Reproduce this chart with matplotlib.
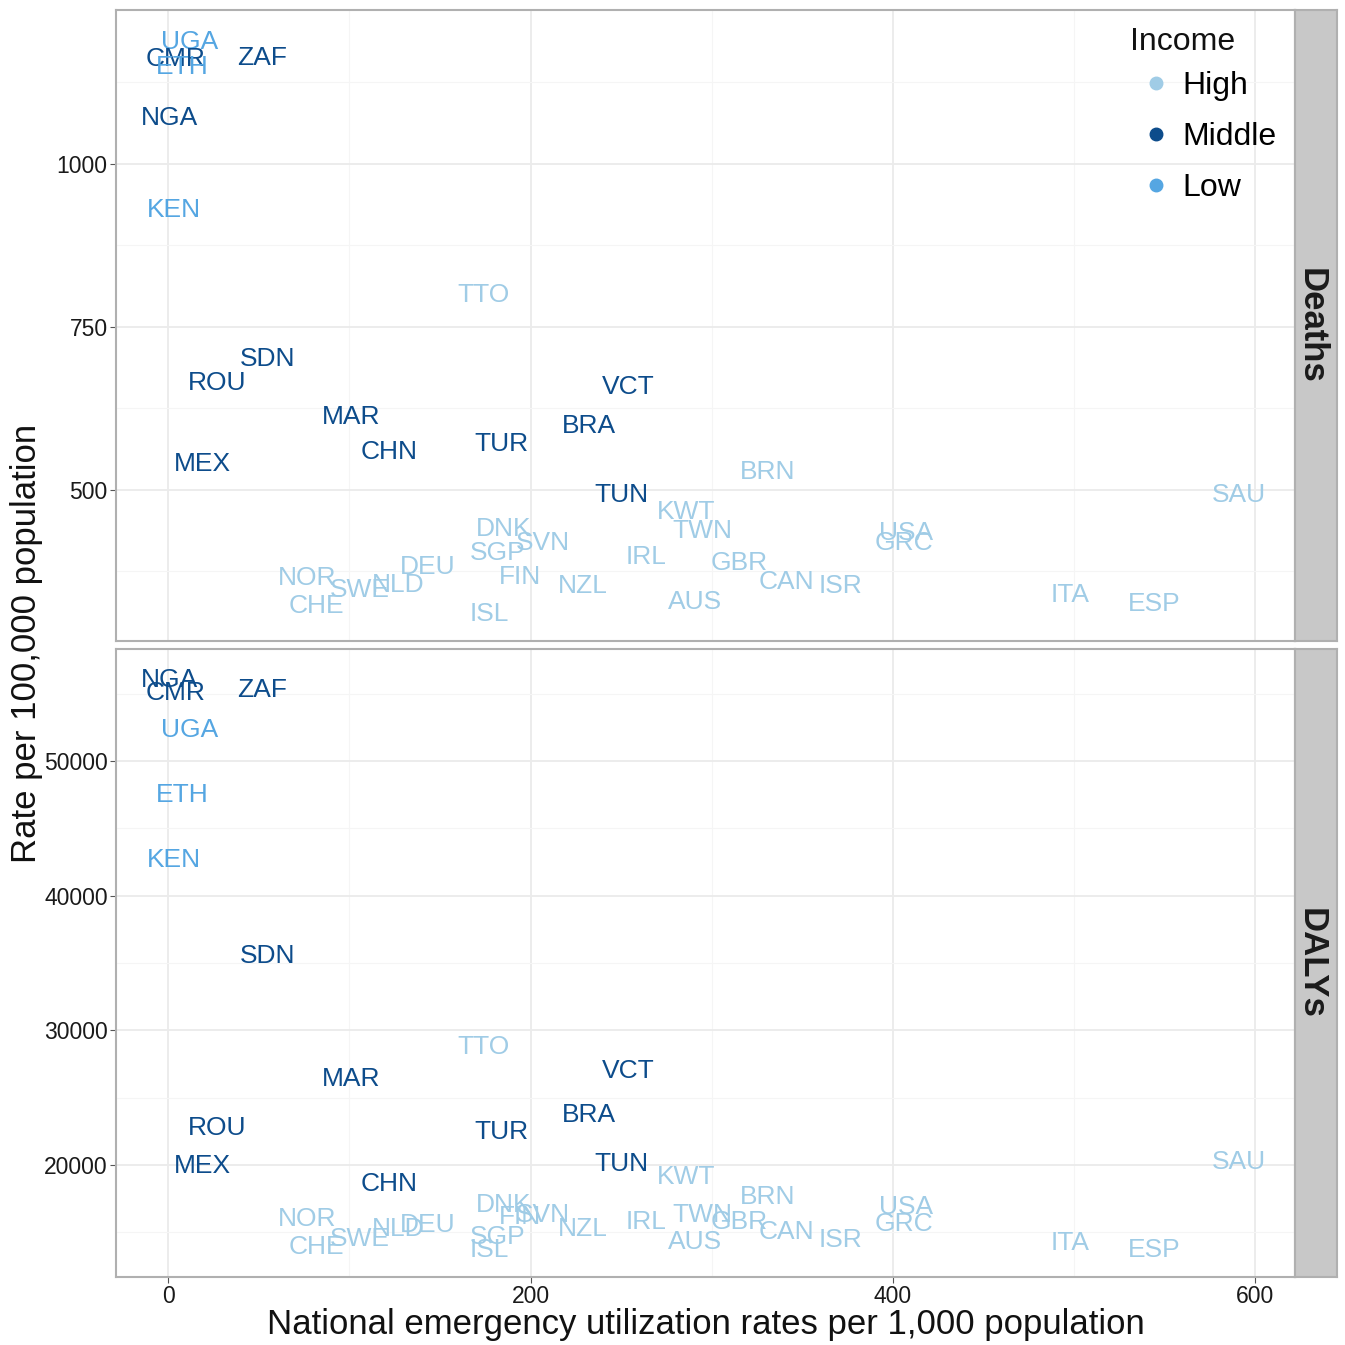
import matplotlib
matplotlib.use("Agg")
import matplotlib.pyplot as plt
import matplotlib.transforms as mtransforms
from matplotlib.lines import Line2D
from matplotlib.ticker import MultipleLocator

plt.rcParams['font.family'] = ['Liberation Sans', 'DejaVu Sans']

# data
countries = ["UGA", "CMR", "ETH", "ZAF", "NGA", "KEN", "TTO", "SDN", "ROU", "MAR",
             "CHN", "MEX", "TUR", "BRA", "VCT", "TUN", "BRN", "KWT", "TWN", "USA",
             "GRC", "SAU", "DNK", "SVN", "SGP", "IRL", "DEU", "FIN", "NOR", "GBR",
             "NZL", "SWE", "NLD", "CAN", "ISR", "AUS", "CHE", "ISL", "ITA", "ESP"]
income = ["Low", "Middle", "Low", "Middle", "Middle", "Low", "High", "Middle", "Middle", "Middle",
          "Middle", "Middle", "Middle", "Middle", "Middle", "Middle", "High", "High", "High", "High",
          "High", "High", "High", "High", "High", "High", "High", "High", "High", "High",
          "High", "High", "High", "High", "High", "High", "High", "High", "High", "High"]
utilization = [12, 4, 8, 52, 1, 3, 174, 55, 27, 101,
               122, 19, 184, 232, 254, 250, 331, 286, 295, 407,
               406, 591, 185, 207, 182, 264, 143, 194, 77, 315,
               229, 106, 127, 341, 371, 291, 82, 177, 498, 544]
deaths = [1190, 1164, 1152, 1166, 1074, 932, 802, 704, 667, 615,
          561, 543, 574, 601, 661, 495, 531, 469, 440, 437,
          422, 495, 443, 422, 406, 400, 385, 370, 368, 390,
          356, 350, 357, 362, 356, 331, 325, 313, 342, 328]
dalys = [52450, 55200, 47620, 55420, 56160, 42800, 28920, 35670, 22900, 26540,
         18750, 20080, 22600, 23870, 27130, 20230, 17780, 19265, 16440, 17040,
         15775, 20380, 17190, 16440, 14810, 15920, 15700, 16300, 16150, 15920,
         15400, 14660, 15400, 15180, 14590, 14440, 14070, 13850, 14365, 13850]

income_levels = ["High", "Middle", "Low"]
income_colors = {"High": "#a0cce6", "Middle": "#0d4c8b", "Low": "#55a6e2"}

fig = plt.figure(figsize=(13.45, 13.45), dpi=100)
W = 1345.0

def px_axes(x0, y0, x1, y1):
    return fig.add_axes([x0 / W, 1 - y1 / W, (x1 - x0) / W, (y1 - y0) / W])

ax_top = px_axes(116, 10, 1295, 641)
ax_bot = px_axes(116, 649, 1295, 1277)
strip_top = px_axes(1295, 10, 1337, 641)
strip_bot = px_axes(1295, 649, 1337, 1277)

panels = [(ax_top, deaths, (268, 1236), 250, 125),
          (ax_bot, dalys, (11690, 58315), 10000, 5000)]

for ax, vals, ylim, major, minor in panels:
    ax.set_xlim(-28.7, 621.8)
    ax.set_ylim(*ylim)
    ax.xaxis.set_major_locator(MultipleLocator(200))
    ax.xaxis.set_minor_locator(MultipleLocator(100))
    ax.yaxis.set_major_locator(MultipleLocator(major))
    ax.yaxis.set_minor_locator(MultipleLocator(minor))
    ax.grid(which='major', color='#ebebeb', lw=1.3)
    ax.grid(which='minor', color='#f5f5f5', lw=0.8)
    ax.set_axisbelow(True)
    for s in ax.spines.values():
        s.set_color('#b0b0b0')
        s.set_linewidth(1.5)
    ax.tick_params(which='minor', length=0)
    ax.tick_params(which='major', length=4, color='#555555', labelsize=16.5,
                   labelcolor='#1a1a1a', pad=2)
    # nudge labels down a little so the caps sit centred like geom_text
    trans = mtransforms.offset_copy(ax.transData, fig=fig, x=0, y=-2, units='dots')
    for c, xv, yv, inc in zip(countries, utilization, vals, income):
        ax.text(xv, yv, c, color=income_colors[inc], fontsize=19,
                ha='center', va='center', transform=trans)

ax_top.tick_params(axis='x', labelbottom=False, length=0)

for sax, label in [(strip_top, "Deaths"), (strip_bot, "DALYs")]:
    sax.set_facecolor('#c8c8c8')
    sax.set_xticks([])
    sax.set_yticks([])
    for s in sax.spines.values():
        s.set_color('#b0b0b0')
        s.set_linewidth(1.5)
    sax.text(0.38, 0.5, label, rotation=-90, ha='center', va='center',
             fontsize=25, fontweight='bold', color='#1a1a1a', transform=sax.transAxes)

ax_bot.set_xlabel("National emergency utilization rates per 1,000 population",
                  fontsize=25, color='#111111', labelpad=0)
fig.text(27 / W, 1 - 643 / W, "Rate per 100,000 population", rotation=90,
         ha='center', va='center', fontsize=25, color='#111111')

# legend: title drawn on its own so the gap to the first key matches ggplot
fig.text(1130 / W, 1 - 42 / W, "Income", ha='left', va='center',
         fontsize=23, color='#111111')
handles = [Line2D([], [], marker='o', ls='', color=income_colors[k], markersize=9)
           for k in income_levels]
leg = ax_top.legend(handles, income_levels, loc='upper left',
                    bbox_to_anchor=(0.852, 0.929), frameon=False, fontsize=23,
                    borderpad=0, handletextpad=0.25,
                    labelspacing=0.66, handlelength=1.2)

fig.savefig("out.png", dpi=100)
